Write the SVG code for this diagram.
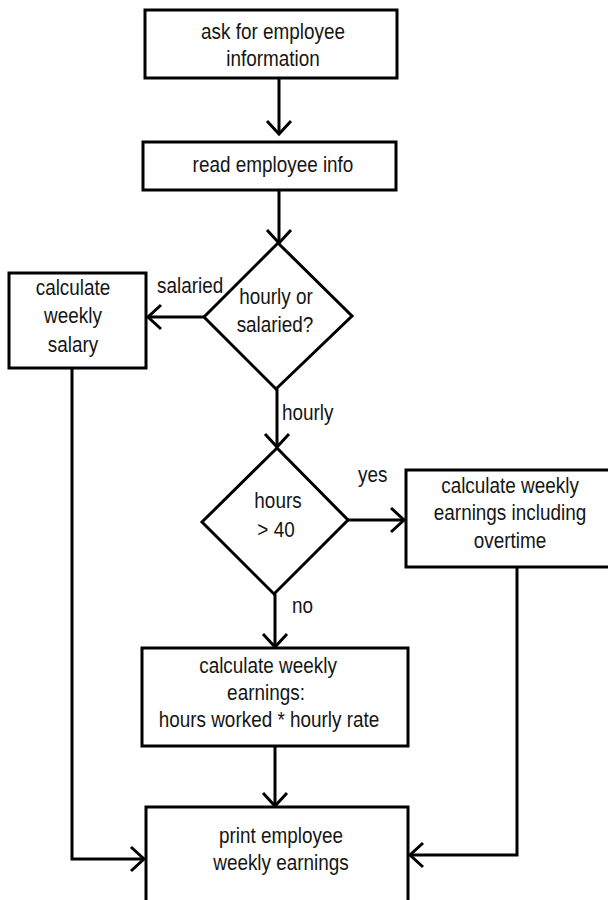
<svg xmlns="http://www.w3.org/2000/svg" width="608" height="900" viewBox="0 0 608 900">
<defs>
<style>
.box{fill:#fff;stroke:#000;stroke-width:3}
.edge{fill:none;stroke:#000;stroke-width:3}
text{font-family:"Liberation Sans",Arial,sans-serif;font-size:22px;fill:#151515}
.c{text-anchor:middle}
</style>
<marker id="arr" markerUnits="userSpaceOnUse" markerWidth="30" markerHeight="30" viewBox="-15 -15 30 30" refX="0" refY="0" orient="auto" overflow="visible">
<path d="M-13,-12 L0,0 L-13,12" fill="none" stroke="#000" stroke-width="3"/>
</marker>
</defs>
<rect width="608" height="900" fill="#fff"/>
<g id="connectors">
<path class="edge" d="M279,78 L279,134" marker-end="url(#arr)"/>
<path class="edge" d="M279,190 L279,243" marker-end="url(#arr)"/>
<path class="edge" d="M204,317 L148,317" marker-end="url(#arr)"/>
<path class="edge" d="M277,389 L277,447" marker-end="url(#arr)"/>
<path class="edge" d="M348,520 L404,520" marker-end="url(#arr)"/>
<path class="edge" d="M275,594 L275,647" marker-end="url(#arr)"/>
<path class="edge" d="M275,746 L275,806" marker-end="url(#arr)"/>
<path class="edge" d="M72,368 L72,859 L144,859" marker-end="url(#arr)"/>
<path class="edge" d="M517,567 L517,855 L410,855" marker-end="url(#arr)"/>
<text transform="translate(157,293) scale(0.86,1)">salaried</text>
<text transform="translate(282,420) scale(0.86,1)">hourly</text>
<text transform="translate(358,482) scale(0.86,1)">yes</text>
<text transform="translate(292,613) scale(0.86,1)">no</text>
</g>
<g id="ask">
<rect class="box" x="145" y="10" width="252" height="68"/>
<text class="c" transform="translate(273,39) scale(0.86,1)">ask for employee</text>
<text class="c" transform="translate(273,66) scale(0.86,1)">information</text>
</g>
<g id="read">
<rect class="box" x="143" y="142" width="253" height="48"/>
<text class="c" transform="translate(273,172) scale(0.86,1)">read employee info</text>
</g>
<g id="hourlyOrSalaried">
<polygon class="box" points="278,243 352,316 276,389 204,317"/>
<text class="c" transform="translate(276,304) scale(0.86,1)">hourly or</text>
<text class="c" transform="translate(275,332) scale(0.86,1)">salaried?</text>
</g>
<g id="weeklySalary">
<rect class="box" x="9" y="273" width="137" height="95"/>
<text class="c" transform="translate(73,295) scale(0.86,1)">calculate</text>
<text class="c" transform="translate(73,323) scale(0.86,1)">weekly</text>
<text class="c" transform="translate(73,352) scale(0.86,1)">salary</text>
</g>
<g id="hours40">
<polygon class="box" points="277,448 348,520 274,594 202,522"/>
<text class="c" transform="translate(278,508) scale(0.86,1)">hours</text>
<text class="c" transform="translate(276,537) scale(0.86,1)">&gt; 40</text>
</g>
<g id="overtime">
<rect class="box" x="406" y="470" width="210" height="97"/>
<text class="c" transform="translate(510,493) scale(0.86,1)">calculate weekly</text>
<text class="c" transform="translate(510,520) scale(0.86,1)">earnings including</text>
<text class="c" transform="translate(510,548) scale(0.86,1)">overtime</text>
</g>
<g id="regular">
<rect class="box" x="142" y="648" width="266" height="98"/>
<text class="c" transform="translate(268,673) scale(0.86,1)">calculate weekly</text>
<text class="c" transform="translate(266,700) scale(0.86,1)">earnings:</text>
<text class="c" transform="translate(269,727) scale(0.86,1)">hours worked * hourly rate</text>
</g>
<g id="print">
<rect class="box" x="146" y="807" width="262" height="110"/>
<text class="c" transform="translate(281,843) scale(0.86,1)">print employee</text>
<text class="c" transform="translate(281,870) scale(0.86,1)">weekly earnings</text>
</g>
</svg>
